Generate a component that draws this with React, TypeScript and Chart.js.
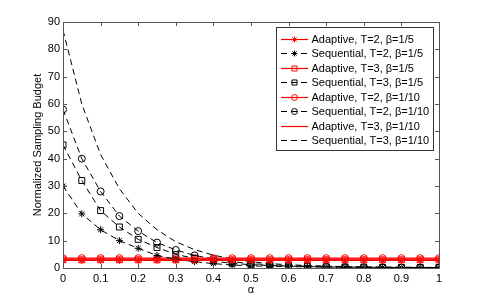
import React, { useEffect, useRef } from "react";
import { Chart, registerables } from "chart.js";

Chart.register(...registerables);

const alphas = [0, 0.05, 0.1, 0.15, 0.2, 0.25, 0.3, 0.35, 0.4, 0.45, 0.5, 0.55, 0.6, 0.65, 0.7, 0.75, 0.8, 0.85, 0.9, 0.95, 1];

const adaptiveT2b5 = [2.8, 2.8, 2.8, 2.8, 2.8, 2.8, 2.8, 2.8, 2.8, 2.8, 2.8, 2.8, 2.8, 2.8, 2.8, 2.8, 2.8, 2.8, 2.8, 2.8, 2.8];
const sequentialT2b5 = [30, 19.8, 14, 10, 7.2, 4.6, 3.2, 2.3, 1.6, 1.1, 0.8, 0.6, 0.5, 0.4, 0.3, 0.3, 0.2, 0.2, 0.2, 0.2, 0.2];
const adaptiveT3b5 = [3.0, 3.0, 3.0, 3.0, 3.0, 3.0, 3.0, 3.0, 3.0, 3.0, 3.0, 3.0, 3.0, 3.0, 3.0, 3.0, 3.0, 3.0, 3.0, 3.0, 3.0];
const sequentialT3b5 = [45, 32, 21, 15, 10.5, 7.5, 5, 3.5, 2.5, 1.7, 1.2, 0.9, 0.7, 0.5, 0.4, 0.3, 0.3, 0.2, 0.2, 0.2, 0.2];
const adaptiveT2b10 = [3.6, 3.6, 3.6, 3.6, 3.6, 3.6, 3.6, 3.6, 3.6, 3.6, 3.6, 3.6, 3.6, 3.6, 3.6, 3.6, 3.6, 3.6, 3.6, 3.6, 3.6];
const sequentialT2b10 = [58, 40, 28, 19, 13.5, 9.3, 6.6, 4.6, 3.3, 2.3, 1.6, 1.2, 0.9, 0.7, 0.5, 0.4, 0.3, 0.3, 0.2, 0.2, 0.2];
const adaptiveT3b10 = [3.3, 3.3, 3.3, 3.3, 3.3, 3.3, 3.3, 3.3, 3.3, 3.3, 3.3, 3.3, 3.3, 3.3, 3.3, 3.3, 3.3, 3.3, 3.3, 3.3, 3.3];
const sequentialT3b10 = [87, 60, 41.5, 29, 20, 14, 9.6, 6.7, 4.7, 3.3, 2.3, 1.6, 1.2, 0.9, 0.7, 0.5, 0.4, 0.3, 0.3, 0.2, 0.2];

const labels = [
  "Adaptive, T=2, β=1/5",
  "Sequential, T=2, β=1/5",
  "Adaptive, T=3, β=1/5",
  "Sequential, T=3, β=1/5",
  "Adaptive, T=2, β=1/10",
  "Sequential, T=2, β=1/10",
  "Adaptive, T=3, β=1/10",
  "Sequential, T=3, β=1/10",
];

const yTicks = [0, 10, 20, 30, 40, 50, 60, 70, 80, 90];
const xTicks = [0, 0.1, 0.2, 0.3, 0.4, 0.5, 0.6, 0.7, 0.8, 0.9, 1];

const FONT = "'Liberation Sans', Arial, Helvetica, sans-serif";
const RED = "#ff0000";
const BLACK = "#000000";
const DASH = [6, 4];

function toPts(vals: number[]) {
  return alphas.map((a, i) => ({ x: a, y: vals[i] }));
}

type Spec = { vals: number[]; color: string; dashed: boolean; marker: string | false; radius: number };

const specs: Spec[] = [
  { vals: adaptiveT2b5, color: RED, dashed: false, marker: "star", radius: 3.5 },
  { vals: sequentialT2b5, color: BLACK, dashed: true, marker: "star", radius: 3.5 },
  { vals: adaptiveT3b5, color: RED, dashed: false, marker: "rect", radius: 4.2 },
  { vals: sequentialT3b5, color: BLACK, dashed: true, marker: "rect", radius: 4.2 },
  { vals: adaptiveT2b10, color: RED, dashed: false, marker: "circle", radius: 3.5 },
  { vals: sequentialT2b10, color: BLACK, dashed: true, marker: "circle", radius: 3.5 },
  { vals: adaptiveT3b10, color: RED, dashed: false, marker: false, radius: 0 },
  { vals: sequentialT3b10, color: BLACK, dashed: true, marker: false, radius: 0 },
];

function drawMarker(ctx: CanvasRenderingContext2D, style: string | false, x: number, y: number, r: number, color: string) {
  if (!style) return;
  ctx.save();
  ctx.strokeStyle = color;
  ctx.fillStyle = color;
  ctx.lineWidth = 1;
  ctx.setLineDash([]);
  ctx.beginPath();
  if (style === "circle") {
    ctx.arc(x, y, r, 0, Math.PI * 2);
  } else if (style === "rect") {
    const s = r * Math.SQRT1_2;
    ctx.rect(x - s, y - s, 2 * s, 2 * s);
  } else if (style === "star") {
    for (let k = 0; k < 4; k++) {
      const a = (k * Math.PI) / 4;
      ctx.moveTo(x - Math.cos(a) * r, y - Math.sin(a) * r);
      ctx.lineTo(x + Math.cos(a) * r, y + Math.sin(a) * r);
    }
  }
  ctx.stroke();
  ctx.restore();
}

const framePlugin = {
  id: "matlabFrame",
  afterDatasetsDraw(chart: any) {
    const { ctx, chartArea: a, scales } = chart;
    ctx.save();
    ctx.strokeStyle = "#555555";
    ctx.lineWidth = 1;
    ctx.setLineDash([]);
    ctx.beginPath();
    ctx.rect(Math.round(a.left) + 0.5, Math.round(a.top) + 0.5, Math.round(a.right - a.left), Math.round(a.bottom - a.top));
    ctx.stroke();
    const tl = 4;
    ctx.beginPath();
    for (const v of xTicks) {
      const px = Math.round(scales.x.getPixelForValue(v)) + 0.5;
      ctx.moveTo(px, a.bottom);
      ctx.lineTo(px, a.bottom - tl);
      ctx.moveTo(px, a.top);
      ctx.lineTo(px, a.top + tl);
    }
    for (const v of yTicks) {
      const py = Math.round(scales.y.getPixelForValue(v)) + 0.5;
      ctx.moveTo(a.left, py);
      ctx.lineTo(a.left + tl, py);
      ctx.moveTo(a.right, py);
      ctx.lineTo(a.right - tl, py);
    }
    ctx.stroke();
    ctx.restore();
  },
  afterDraw(chart: any) {
    const { ctx } = chart;
    const bx = 276.5, by = 27.5, bw = 157, bh = 123;
    ctx.save();
    ctx.fillStyle = "#ffffff";
    ctx.fillRect(bx, by, bw, bh);
    ctx.strokeStyle = "#333333";
    ctx.lineWidth = 1;
    ctx.strokeRect(bx, by, bw, bh);
    ctx.font = `11px ${FONT}`;
    ctx.textBaseline = "middle";
    ctx.textAlign = "left";
    chart.data.datasets.forEach((ds: any, i: number) => {
      const sp = specs[i];
      const cy = Math.round(38.5 + i * 14.5) + 0.5;
      ctx.save();
      ctx.strokeStyle = sp.color;
      ctx.lineWidth = sp.dashed ? 1 : 1.2;
      ctx.setLineDash(sp.dashed ? DASH : []);
      ctx.beginPath();
      ctx.moveTo(281, cy);
      ctx.lineTo(308, cy);
      ctx.stroke();
      ctx.restore();
      drawMarker(ctx, sp.marker, 294.5, cy, sp.radius * 0.85, sp.color);
      ctx.fillStyle = "#000000";
      ctx.fillText(ds.label, 311.5, cy);
    });
    ctx.restore();
  },
};

export default function App() {
  const ref = useRef<HTMLCanvasElement | null>(null);
  useEffect(() => {
    document.body.style.margin = "0";
    const canvas = ref.current;
    if (!canvas) return;
    const chart = new Chart(canvas, {
      type: "line",
      data: {
        datasets: specs.map((sp, i) => ({
          label: labels[i],
          data: toPts(sp.vals),
          borderColor: sp.color,
          backgroundColor: "rgba(0,0,0,0)",
          borderWidth: sp.dashed ? 1 : 1.2,
          borderDash: sp.dashed ? DASH : [],
          pointStyle: sp.marker === false ? "circle" : (sp.marker as any),
          pointRadius: sp.radius,
          pointBorderColor: sp.color,
          pointBackgroundColor: "rgba(0,0,0,0)",
          pointBorderWidth: 1,
          tension: 0,
          fill: false,
        })),
      },
      options: {
        responsive: false,
        animation: false,
        devicePixelRatio: 1,
        layout: { padding: { left: 0, top: 22, right: 46, bottom: 0 } },
        plugins: { legend: { display: false }, tooltip: { enabled: false } },
        font: { family: FONT } as any,
        scales: {
          x: {
            type: "linear",
            min: 0,
            max: 1,
            afterFit: (s: any) => { s.height = 34; },
            afterBuildTicks: (s: any) => { s.ticks = xTicks.map((v) => ({ value: v })); },
            grid: { display: false, drawTicks: false },
            border: { display: false },
            ticks: {
              padding: 4,
              color: "#000",
              font: { family: FONT, size: 11 },
              maxRotation: 0,
              autoSkip: false,
              callback: (v: any) => String(Number(Number(v).toFixed(2))),
            },
            title: { display: true, text: "α", color: "#000", font: { family: FONT, size: 11 }, padding: { top: 0, bottom: 5 } },
          },
          y: {
            type: "linear",
            min: 0,
            max: 90,
            afterFit: (s: any) => { s.width = 63; },
            afterBuildTicks: (s: any) => { s.ticks = yTicks.map((v) => ({ value: v })); },
            grid: { display: false, drawTicks: false },
            border: { display: false },
            ticks: {
              padding: 3,
              color: "#000",
              font: { family: FONT, size: 11 },
              autoSkip: false,
              callback: (v: any) => String(v),
            },
            title: { display: true, text: "Normalized Sampling Budget", color: "#000", font: { family: FONT, size: 11 }, padding: { top: 31, bottom: 0 } },
          },
        },
      },
      plugins: [framePlugin],
    });
    return () => chart.destroy();
  }, []);
  return (
    <div style={{ position: "fixed", left: 0, top: 0, width: 485, height: 302, background: "#fff" }}>
      <canvas ref={ref} width={485} height={302} />
    </div>
  );
}
